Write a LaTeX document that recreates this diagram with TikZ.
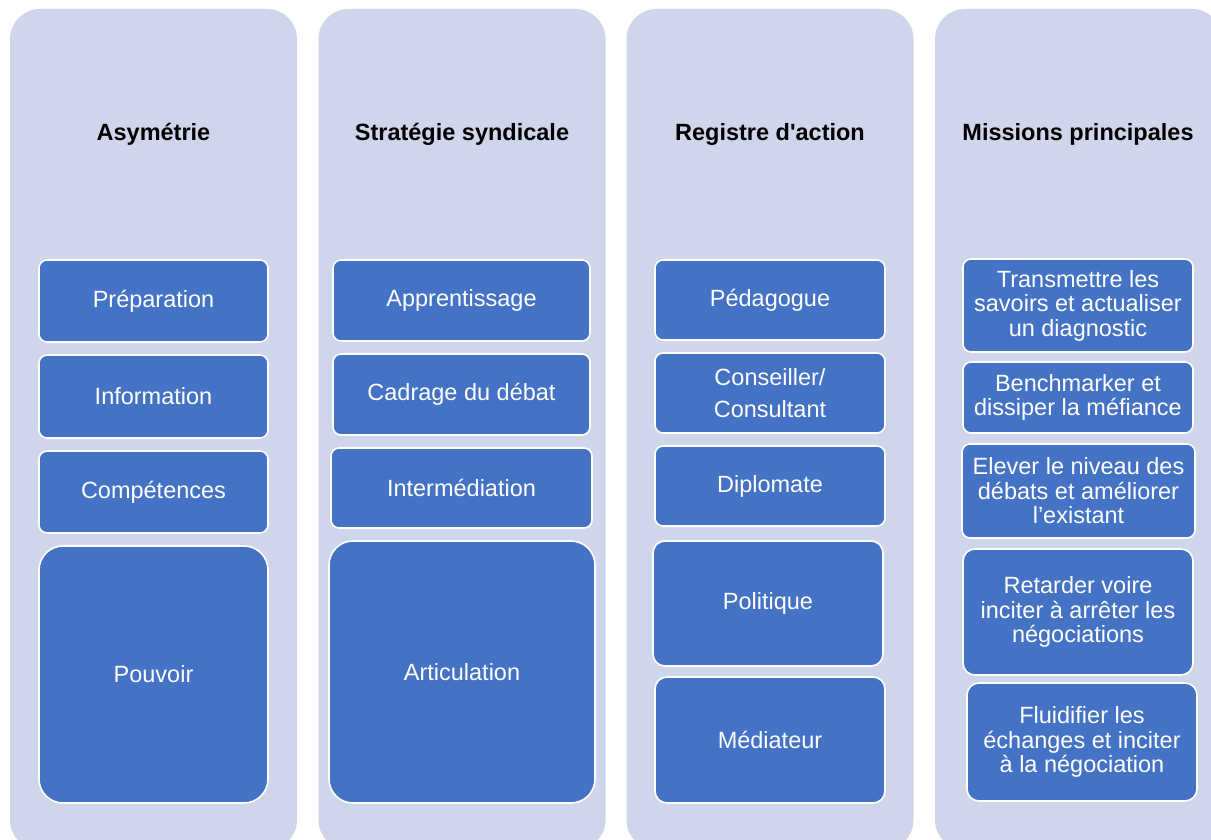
\documentclass[tikz,border=0pt]{standalone}
\usepackage{fontspec}
\setmainfont{Liberation Sans}
\newcommand{\straightapos}{\XeTeXglyph\XeTeXcharglyph"27\relax}
\begin{document}
\begin{tikzpicture}[x=1pt,y=-1pt,
  panel/.style={fill=panelc, draw=none, rounded corners=30pt, inner sep=0pt},
  head/.style={font=\fontsize{23.5pt}{24.5pt}\selectfont\bfseries, text=black, align=center},
  ibox/.style={fill=boxc, draw=white, line width=1.6pt, text=white, align=center, inner sep=0pt,
    font=\fontsize{23.5pt}{24.5pt}\selectfont, rounded corners=8pt},
  bigbox/.style={ibox, rounded corners=24pt},
  midbox/.style={ibox, rounded corners=12pt}]
\definecolor{panelc}{HTML}{CFD5EA}
\definecolor{boxc}{HTML}{4472C4}
\useasboundingbox (0,0) rectangle (1211,840);
\begin{scope}
\clip (0,0) rectangle (1211,840);
\node[panel, minimum width=287pt, minimum height=841pt] (p1) at (153.5,429.5) {};
\node[panel, minimum width=287pt, minimum height=841pt] (p2) at (462,429.5) {};
\node[panel, minimum width=287pt, minimum height=841pt] (p3) at (770,429.5) {};
\node[panel, minimum width=287pt, minimum height=841pt] (p4) at (1078.5,429.5) {};
\end{scope}
% headers
\node[head] (h1) at (153.5,134) {Asymétrie};
\node[head] (h2) at (462,134) {Stratégie syndicale};
\node[head] (h3) at (770,134) {Registre d\straightapos action};
\node[head] (h4) at (1078,134) {Missions principales};
% column 1
\node[ibox, minimum width=229pt, minimum height=82pt] (a1) at (153.5,301) {Préparation};
\node[ibox, minimum width=229pt, minimum height=83pt] (a2) at (153.5,396.5) {Information};
\node[ibox, minimum width=229pt, minimum height=82pt] (a3) at (153.5,492) {Compétences};
\node[bigbox, minimum width=229pt, minimum height=257pt] (a4) at (153.5,674.5) {Pouvoir};
% column 2
\node[ibox, minimum width=257pt, minimum height=81pt] (b1) at (461.5,300.5) {Apprentissage};
\node[ibox, minimum width=257pt, minimum height=81pt] (b2) at (461.5,394.5) {Cadrage du débat};
\node[ibox, minimum width=261pt, minimum height=80pt] (b3) at (461.5,488) {Intermédiation};
\node[bigbox, minimum width=266pt, minimum height=262pt] (b4) at (462,672) {Articulation};
% column 3
\node[ibox, minimum width=230pt, minimum height=80pt] (c1) at (770,300) {Pédagogue};
\node[ibox, minimum width=230pt, minimum height=80pt] (c2) at (770,393) {Conseiller/\\[7.5pt]Consultant};
\node[ibox, minimum width=230pt, minimum height=80pt] (c3) at (770,486) {Diplomate};
\node[midbox, minimum width=230pt, minimum height=125pt] (c4) at (768,603.5) {Politique};
\node[midbox, minimum width=230pt, minimum height=126pt] (c5) at (770,740) {Médiateur};
% column 4
\node[ibox, minimum width=230pt, minimum height=93pt] (d1) at (1078,305.5) {Transmettre les\\savoirs et actualiser\\un diagnostic};
\node[ibox, minimum width=230pt, minimum height=71pt] (d2) at (1078,397.5) {Benchmarker et\\dissiper la méfiance};
\node[ibox, minimum width=233pt, minimum height=94pt] (d3) at (1078.5,491) {Elever le niveau des\\débats et améliorer\\l’existant};
\node[midbox, minimum width=230pt, minimum height=126pt] (d4) at (1078,612) {Retarder voire\\inciter à arrêter les\\négociations};
\node[midbox, minimum width=230pt, minimum height=118pt] (d5) at (1082,742) {Fluidifier les\\échanges et inciter\\à la négociation};
\end{tikzpicture}
\end{document}
